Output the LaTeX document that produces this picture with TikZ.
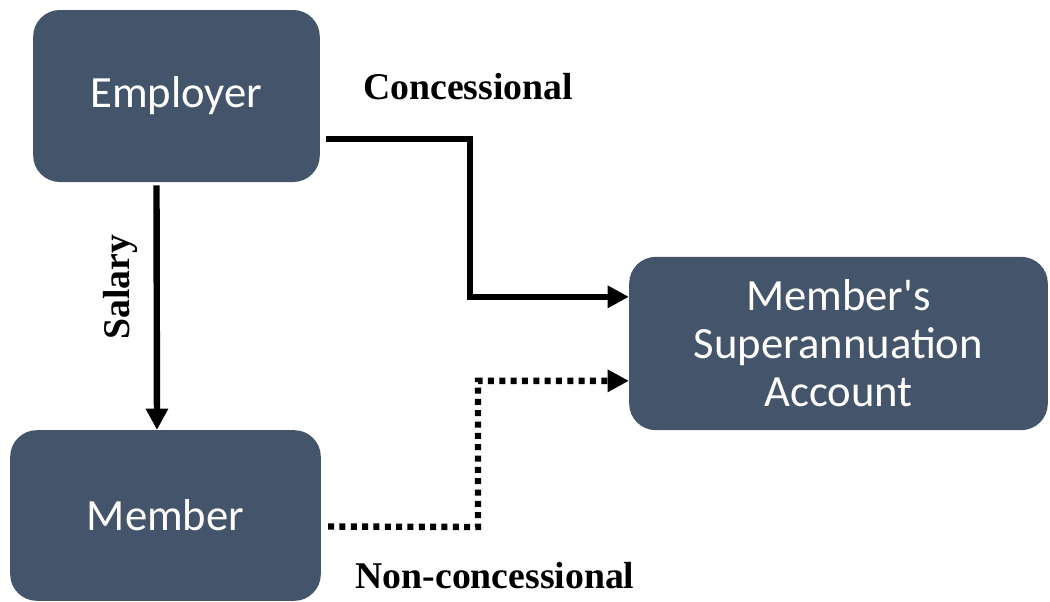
\documentclass[tikz,border=0pt]{standalone}
\usepackage{fontspec}
\setmainfont{Liberation Serif}
\newfontfamily\boxfont{Carlito}
\usetikzlibrary{arrows.meta}
\definecolor{slate}{HTML}{44546A}
\tikzset{
  block/.style={fill=slate, rounded corners=20pt, text=white, align=center,
    font=\boxfont\fontsize{33.5}{36}\selectfont, inner sep=0pt},
  flow/.style={line width=4.8pt, -{Triangle[length=16pt,width=16pt]}},
  dots/.style={flow, dash pattern=on 4.5pt off 4pt},
  lbl/.style={font=\bfseries\fontsize{28.3}{32}\selectfont}
}
\begin{document}
\begin{tikzpicture}[x=0.75pt,y=-0.75pt]
    \useasboundingbox (0,0) rectangle (1050,601);
    \node[block, minimum width=215pt, minimum height=129pt] (emp) at (176.5,96) {Employer};
    \node[block, minimum width=233pt, minimum height=128pt] (mem) at (165.5,515.5) {Member};
    \node[block, minimum width=314pt, minimum height=130pt] (sup) at (838.5,343.5) {Member's\\Superannuation\\Account};
    \coordinate (b1) at (470,139);  \coordinate (b2) at (478,527);
    \node[lbl] (conc) at (468,87) {Concessional};
    \node[lbl, rotate=90] (sal) at (120,287) {Salary};
    \node[lbl] (ncon) at (495,576) {Non-concessional};
    \draw [flow] ([shift={(6,43)}]emp.east) -- (b1) |- ([yshift=35pt]sup.west);
    \draw [flow] ([shift={(-20,3)}]emp.south) -- (mem.north -| 157,0);
    \draw [dots] ([shift={(7,11)}]mem.east) -- (b2) |- ([yshift=-28pt]sup.west);
\end{tikzpicture}
\end{document}
